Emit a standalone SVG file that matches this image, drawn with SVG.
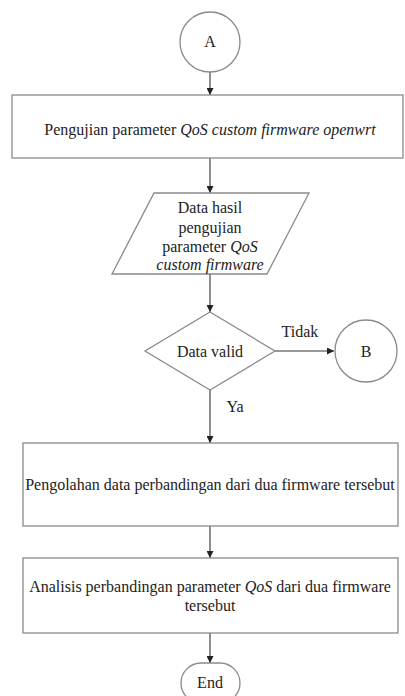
<svg xmlns="http://www.w3.org/2000/svg" width="405" height="696" viewBox="0 0 405 696">
<style>
.shape{fill:#fff;stroke:#8a8a8a;stroke-width:1.3}
.t{font-family:"Liberation Serif","Times New Roman",serif;font-size:16px;fill:#222;text-anchor:middle}
.i{font-style:italic}
.c{stroke:#333;stroke-width:1.1;fill:none;marker-end:url(#ah)}
</style>
<defs>
<marker id="ah" viewBox="0 0 10 10" refX="10" refY="5" markerWidth="7" markerHeight="7" markerUnits="userSpaceOnUse" orient="auto">
<path d="M0,0 L10,5 L0,10 z" fill="#222"/>
</marker>
</defs>
<rect width="405" height="696" fill="#fff"/>
<g id="connectors">
<line class="c" x1="210" y1="72" x2="210" y2="95"/>
<line class="c" x1="210" y1="158" x2="210" y2="193"/>
<line class="c" x1="210" y1="274" x2="210" y2="312"/>
<line class="c" x1="275" y1="351" x2="334" y2="351"/>
<line class="c" x1="210" y1="390" x2="210" y2="443"/>
<line class="c" x1="210" y1="526" x2="210" y2="558"/>
<line class="c" x1="210" y1="633" x2="210" y2="663"/>
</g>
<g id="nodeA">
<circle class="shape" cx="210" cy="42" r="30"/>
<text class="t" x="210" y="47">A</text>
</g>
<g id="box1">
<rect class="shape" x="12" y="95" width="391" height="63"/>
<text class="t" x="210" y="135">Pengujian parameter <tspan class="i">QoS custom firmware openwrt</tspan></text>
</g>
<g id="data">
<polygon class="shape" points="154,193 309,193 267,274 112,274"/>
<text class="t" x="210" y="213">Data hasil</text>
<text class="t" x="210" y="233">pengujian</text>
<text class="t" x="210" y="252">parameter <tspan class="i">QoS</tspan></text>
<text class="t i" x="210" y="270">custom firmware</text>
</g>
<g id="decision">
<polygon class="shape" points="210,312 275,351 210,390 145,351"/>
<text class="t" x="210" y="357">Data valid</text>
<text class="t" x="300" y="337">Tidak</text>
<text class="t" x="235" y="412">Ya</text>
</g>
<g id="nodeB">
<circle class="shape" cx="366" cy="351" r="31"/>
<text class="t" x="366" y="357">B</text>
</g>
<g id="box2">
<rect class="shape" x="23" y="443" width="375" height="83"/>
<text class="t" x="210" y="490">Pengolahan data perbandingan dari dua firmware tersebut</text>
</g>
<g id="box3">
<rect class="shape" x="23" y="558" width="375" height="75"/>
<text class="t" x="210" y="592">Analisis perbandingan parameter <tspan class="i">QoS</tspan> dari dua firmware</text>
<text class="t" x="210" y="611">tersebut</text>
</g>
<g id="end">
<rect class="shape" x="181" y="663" width="59" height="40" rx="20" ry="20"/>
<text class="t" x="210" y="688">End</text>
</g>
</svg>
